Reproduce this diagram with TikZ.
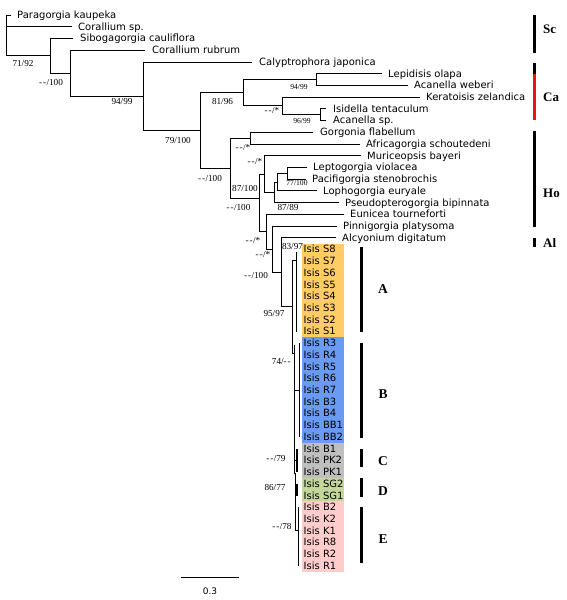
\documentclass[tikz,border=0pt]{standalone}
\usepackage{fontspec}
\setmainfont{Liberation Serif}
\newfontfamily\taxfont{DejaVu Sans}
\definecolor{cA}{RGB}{255,204,102}
\definecolor{cB}{RGB}{105,155,245}
\definecolor{cC}{RGB}{191,191,191}
\definecolor{cD}{RGB}{196,215,155}
\definecolor{cE}{RGB}{255,204,204}
\definecolor{cRed}{RGB}{235,20,20}
\newcommand\RY[1]{(15+11.72*(#1))}
\newcommand\leaf[5]{\draw[tree] (#2,{\RY{#1}}) -- (#3,{\RY{#1}});
  \node[tax] (t#1) at (#4,{\RY{#1}+3.5}) {#5};}
\newcommand\dd{-\kern0.9pt-\kern0.4pt}
\begin{document}
\begin{tikzpicture}[x=1pt,y=-1pt,
  tree/.style={line width=0.7pt,line cap=rect},
  itree/.style={line width=1.1pt},
  tax/.style={anchor=base west,inner sep=0pt,font=\taxfont\fontsize{10}{12}\selectfont},
  bs/.style={inner sep=0pt,font=\fontsize{9.2}{10}\selectfont},
  bss/.style={inner sep=0pt,font=\fontsize{7.6}{9}\selectfont},
  cbar/.style={line width=3pt},
  clab/.style={anchor=west,inner sep=0pt,font=\bfseries\fontsize{13}{15}\selectfont},
  glab/.style={inner sep=0pt,font=\bfseries\fontsize{13.5}{15}\selectfont}]
\useasboundingbox (0,0) rectangle (566,600);
% colour boxes
\fill[cA] (302,243.54) rectangle (343.5,337.3);
\fill[cB] (302,337.3) rectangle (343.5,442.78);
\fill[cC] (302,442.78) rectangle (343.5,477.94);
\fill[cD] (302,477.94) rectangle (343.5,501.38);
\fill[cE] (302,501.38) rectangle (343.5,571.7);
% Sc part
\draw[tree] (6,15) -- (6,55.78);
\leaf{0}{6}{11}{17}{Paragorgia kaupeka}
\leaf{1}{6}{72}{78}{Corallium sp.}
\draw[tree] (6,55.78) -- (50,55.78);
\draw[tree] (50,38.44) -- (50,73.13);
\leaf{2}{50}{73}{80}{Sibogagorgia cauliflora}
\draw[tree] (50,73.13) -- (70,73.13);
\draw[tree] (70,50.16) -- (70,96.09);
\leaf{3}{70}{145}{152}{Corallium rubrum}
\draw[tree] (70,96.09) -- (143,96.09);
\draw[tree] (143,61.88) -- (143,130.3);
\leaf{4}{143}{252}{259}{Calyptrophora japonica}
\draw[tree] (143,130.3) -- (200,130.3);
\draw[tree] (200,92.65) -- (200,168);
% Ca part
\draw[tree] (200,92.65) -- (243,92.65);
\draw[tree] (243,79.46) -- (243,105.83);
\draw[tree] (243,79.46) -- (316,79.46);
\draw[tree] (316,73.6) -- (316,85.32);
\leaf{5}{316}{382}{388}{Lepidisis olapa}
\leaf{6}{316}{408}{414}{Acanella weberi}
\draw[tree] (243,105.83) -- (282,105.83);
\draw[tree] (282,97.04) -- (282,114.62);
\leaf{7}{282}{420}{426}{Keratoisis zelandica}
\draw[tree] (282,114.62) -- (320,114.62);
\draw[tree] (320,108.76) -- (320,120.48);
\leaf{8}{320}{326}{333}{Isidella tentaculum}
\leaf{9}{320}{326}{333}{Acanella sp.}
% Ho part
\draw[tree] (200,168) -- (230,168);
\draw[tree] (230,138.06) -- (230,198);
\draw[tree] (230,138.06) -- (250,138.06);
\draw[tree] (250,132.2) -- (250,143.92);
\leaf{10}{250}{313}{320}{Gorgonia flabellum}
\leaf{11}{250}{360}{366}{Africagorgia schoutedeni}
\draw[tree] (230,198) -- (259,198);
\draw[tree] (259,173.95) -- (259,231.63);
\draw[tree] (259,173.95) -- (264,173.95);
\draw[tree] (264,155.64) -- (264,192.27);
\leaf{12}{264}{361}{367}{Muriceopsis bayeri}
\draw[tree] (264,192.27) -- (274,192.27);
\draw[tree] (274,182.01) -- (274,202.52);
\draw[tree] (274,182.01) -- (277,182.01);
\draw[tree] (277,173.22) -- (277,190.8);
\draw[tree] (277,173.22) -- (287,173.22);
\draw[tree] (287,167.36) -- (287,179.08);
\leaf{13}{287}{307}{313}{Leptogorgia violacea}
\leaf{14}{287}{306}{312}{Pacifigorgia stenobrochis}
\leaf{15}{277}{317}{323}{Lophogorgia euryale}
\leaf{16}{274}{339}{345}{Pseudopterogorgia bipinnata}
\draw[tree] (259,231.63) -- (266,231.63);
\draw[tree] (266,214.24) -- (266,249.03);
\leaf{17}{266}{344}{350}{Eunicea tourneforti}
\draw[tree] (266,249.03) -- (272,249.03);
\draw[tree] (272,225.96) -- (272,272.09);
\leaf{18}{272}{337}{343}{Pinnigorgia platysoma}
\draw[tree] (272,272.09) -- (281,272.09);
\draw[tree] (281,237.68) -- (281,306.5);
\leaf{19}{281}{336}{342}{Alcyonium digitatum}
\draw[tree] (281,306.5) -- (292,306.5);
% Isis part
\draw[tree] (292,260) -- (292,353);
\draw[tree] (292,260) -- (296,260);
\draw[tree] (296,252) -- (296,331.4);
\draw[tree] (292,353) -- (294,353);
\draw[tree] (294,345) -- (294,473);
\draw[tree] (294,390) -- (299,390);
\draw[tree] (299,343.2) -- (299,436.9);
\draw[tree] (294,460) -- (297,460);
\draw[itree] (297,448.6) -- (297,472.1);
\draw[tree] (294,473) -- (295.5,473);
\draw[tree] (295.5,473) -- (295.5,530);
\draw[tree] (295.5,490) -- (297,490);
\draw[itree] (297,483.8) -- (297,495.5);
\draw[tree] (295.5,530) -- (298.5,530);
\draw[itree] (298.5,507.2) -- (298.5,565.8);
\foreach \i/\n in {20/S8,21/S7,22/S6,23/S5,24/S4,25/S3,26/S2,27/S1,28/R3,29/R4,30/R5,31/R6,32/R7,33/B3,34/B4,35/BB1,36/BB2,37/B1,38/PK2,39/PK1,40/SG2,41/SG1,42/B2,43/K2,44/K1,45/R8,46/R2,47/R1}
  \node[tax] (isis\i) at (303.5,{15+11.72*\i+3.5}) {Isis \n};
% support values
\node[bs] (b1) at (23,63) {71/92};
\node[bs] (b2) at (51,82) {\dd/100};
\node[bs] (b3) at (122,101) {94/99};
\node[bs] (b4) at (178,140) {79/100};
\node[bs] (b5) at (222.5,101.5) {81/96};
\node[bss] (b6) at (299,87) {94/99};
\node[bs] (b7) at (272,110.5) {\dd/*};
\node[bss] (b8) at (302,121.5) {96/99};
\node[bs] (b9) at (243,148) {\dd/*};
\node[bs] (b10) at (255,162) {\dd/*};
\node[bs] (b11) at (210,178) {\dd/100};
\node[bs] (b12) at (245,188.5) {87/100};
\node[bss] (b13) at (297,183) {77/100};
\node[bs] (b14) at (238.5,207) {\dd/100};
\node[bs] (b15) at (288,207.5) {87/89};
\node[bs] (b16) at (253,240.5) {\dd/*};
\node[bs] (b17) at (263,255) {\dd/*};
\node[bs] (b18) at (256,275) {\dd/100};
\node[bs] (b19) at (292.5,246.5) {83/97};
\node[bs] (b20) at (274,313.5) {95/97};
\node[bs] (b21) at (281.5,362) {74/\dd};
\node[bs] (b22) at (276,458) {\dd/79};
\node[bs] (b23) at (275,487) {86/77};
\node[bs] (b24) at (282,526) {\dd/78};
% clade bars right
\draw[cbar] (534.5,15) -- (534.5,53);
\draw[cbar] (534.5,63) -- (534.5,73.5);
\draw[cbar,cRed] (534.5,73.5) -- (534.5,120);
\draw[cbar] (534.5,131) -- (534.5,227);
\draw[cbar] (534.5,238) -- (534.5,247);
\node[clab] (Sc) at (543,29) {Sc};
\node[clab] (Ca) at (543,97) {Ca};
\node[clab] (Ho) at (543,193) {Ho};
\node[clab] (Al) at (543,243) {Al};
% Isis groups
\draw[cbar] (361,247) -- (361,332);
\draw[cbar] (361,343) -- (361,438);
\draw[cbar] (361,449) -- (361,467);
\draw[cbar] (361,478) -- (361,497);
\draw[cbar] (361,507) -- (361,563);
\node[glab] (gA) at (383,289) {A};
\node[glab] (gB) at (383,394) {B};
\node[glab] (gC) at (383,461) {C};
\node[glab] (gD) at (383,491) {D};
\node[glab] (gE) at (383,539) {E};
% scale bar
\coordinate (s1) at (181,577);
\coordinate (s2) at (239,577);
\draw[line width=0.7pt] (s1) -- (s2);
\node[inner sep=0pt,font=\taxfont\fontsize{9}{10}\selectfont] (sl) at (210,591) {0.3};
\end{tikzpicture}
\end{document}
